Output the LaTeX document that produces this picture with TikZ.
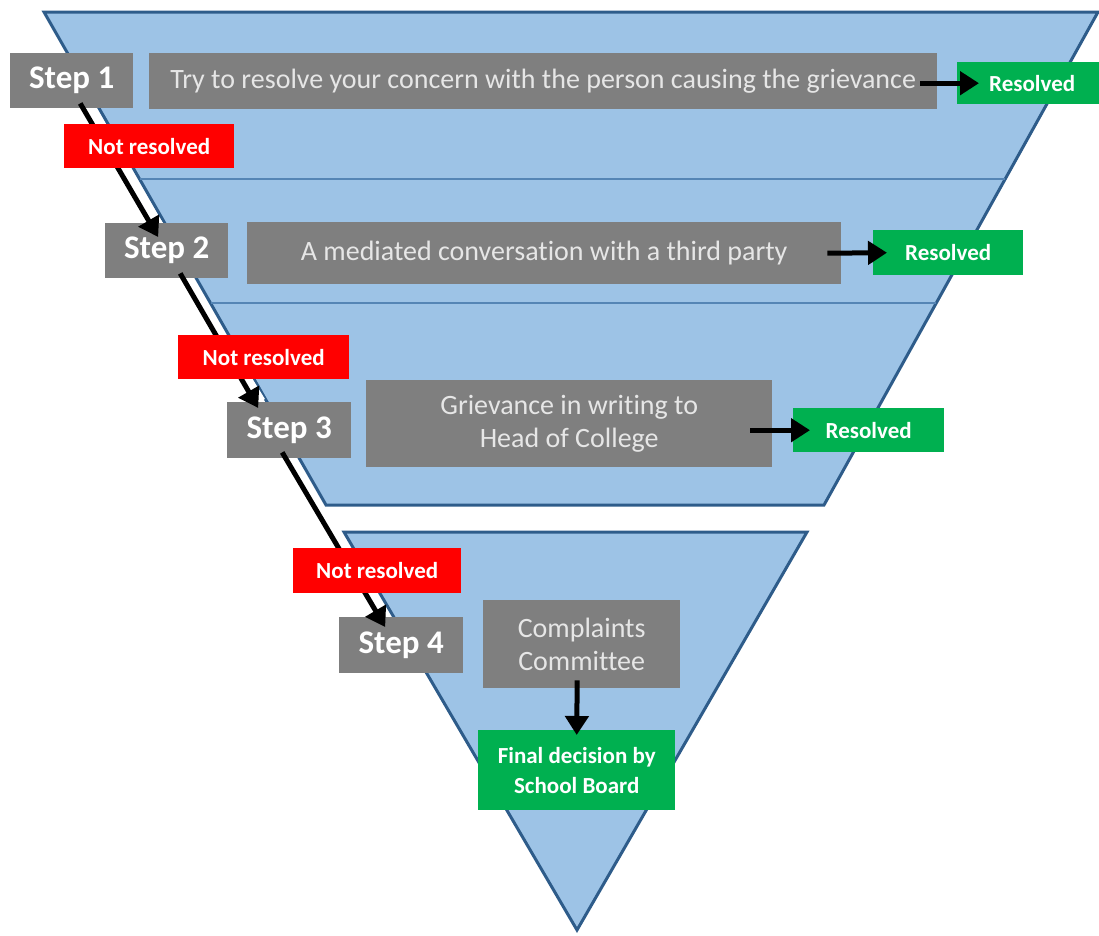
\documentclass[tikz,border=0pt]{standalone}
\usepackage{fontspec}
\setmainfont{Carlito}[Ligatures=NoCommon]
\usetikzlibrary{arrows.meta,calc}
\pgfdeclarelayer{back}
\pgfdeclarelayer{mid}
\pgfsetlayers{back,mid,main}
\definecolor{tfill}{HTML}{9DC3E6}
\definecolor{tedge}{HTML}{2E5C8A}
\definecolor{tdiv}{HTML}{5585B5}
\definecolor{gboxc}{HTML}{7F7F7F}
\definecolor{gtext}{HTML}{E6E6E6}
\definecolor{rboxc}{HTML}{FF0000}
\definecolor{gnboxc}{HTML}{00B050}
\begin{document}
\begin{tikzpicture}[x=1pt,y=-1pt,
  funnel/.style={fill=tfill,draw=tedge,line width=3pt,line join=miter},
  divline/.style={draw=tdiv,line width=2pt},
  stepbox/.style={fill=gboxc,text=white,font=\bfseries\fontsize{33}{39}\selectfont,inner sep=0pt,anchor=north west},
  descbox/.style={fill=gboxc,text=gtext,font=\fontsize{28}{33}\selectfont,inner sep=0pt,anchor=north west,align=center},
  okbox/.style={fill=gnboxc,text=white,font=\bfseries\fontsize{23}{29}\selectfont,inner sep=0pt,anchor=north west,align=center},
  nobox/.style={fill=rboxc,text=white,font=\bfseries\fontsize{23}{27}\selectfont,inner sep=0pt,anchor=north west},
  arr/.style={draw=black,line width=5pt,-{Triangle[length=19pt,width=23pt]}},
  halo/.style={draw=white,line width=4pt}
]
\useasboundingbox (0,0) rectangle (1099,935);

% funnel shapes
\begin{pgfonlayer}{back}
\draw[funnel] (44,12) -- (1098,12) -- (824,505) -- (326,505) -- cycle;
\draw[divline] (139.5,179) -- (1005,179);
\draw[divline] (210.5,303) -- (936,303);
\draw[funnel] (344,532) -- (807,532) -- (577,930) -- cycle;
\end{pgfonlayer}

% boxes
\node[stepbox,minimum width=123pt,minimum height=55pt] (s1) at (10,53) {Step 1};
\node[descbox,minimum width=788pt,minimum height=56pt] (b1) at (149,53) {Try to resolve your concern with the person causing the grievance};
\node[okbox,minimum width=150pt,minimum height=42pt] (r1) at (957,62) {Resolved};

\node[stepbox,minimum width=123pt,minimum height=55pt] (s2) at (105,223) {Step 2};
\node[descbox,minimum width=594pt,minimum height=62pt] (b2) at (247,222) {A mediated conversation with a third party};
\node[okbox,minimum width=150pt,minimum height=45pt] (r2) at (873,230) {Resolved};

\node[stepbox,minimum width=124pt,minimum height=56pt] (s3) at (227,402) {Step 3};
\node[descbox,minimum width=406pt,minimum height=87pt] (b3) at (366,380) {Grievance in writing to\\Head of College};
\node[okbox,minimum width=151pt,minimum height=44pt] (r3) at (793,408) {Resolved};

\node[stepbox,minimum width=124pt,minimum height=56pt] (s4) at (339,617) {Step 4};
\node[descbox,minimum width=197pt,minimum height=88pt] (b4) at (483,600) {Complaints\\Committee};
\node[okbox,minimum width=197pt,minimum height=80pt,font=\bfseries\fontsize{23}{30}\selectfont] (fin) at (478,730) {Final decision by\\School Board};

% white halos beside the diagonal connectors
\begin{pgfonlayer}{mid}
\draw[halo] ($(s1.south)+(13.5,-5)$) -- ($(s2.north)+(-3.5,4)$);
\draw[halo] ($(s2.south)+(18.5,-5)$) -- ($(s3.north)+(-26,-2)$);
\draw[halo] ($(s3.south)+(-2,-6)$) -- ($(s4.north)+(-11,2)$);
\end{pgfonlayer}

% connectors
\draw[arr] ($(s1.south)+(8.5,-5)$) -- ($(s2.north)+(-8.5,14)$);
\draw[arr] ($(s2.south)+(13.5,-5)$) -- ($(s3.north)+(-31,6)$);
\draw[arr] ($(s3.south)+(-7,-6)$) -- ($(s4.north)+(-16,10)$);
\draw[arr] ($(b1.east)+(-17,2)$) -- ($(r1.west)+(22,0)$);
\draw[arr] ($(b2.east)+(-14,0)$) -- ($(r2.west)+(14,0)$);
\draw[arr] ($(b3.east)+(-22,6.5)$) -- ($(r3.west)+(17,0)$);
\draw[arr] ($(b4.south)+(-4.5,-8)$) -- ($(fin.north)+(0,5)$);

% not resolved labels (on top of connectors)
\node[nobox,minimum width=170pt,minimum height=44pt] (n1) at (64,124) {Not resolved};
\node[nobox,minimum width=171pt,minimum height=44pt] (n2) at (178,335) {Not resolved};
\node[nobox,minimum width=168pt,minimum height=45pt] (n3) at (293,548) {Not resolved};
\end{tikzpicture}
\end{document}
